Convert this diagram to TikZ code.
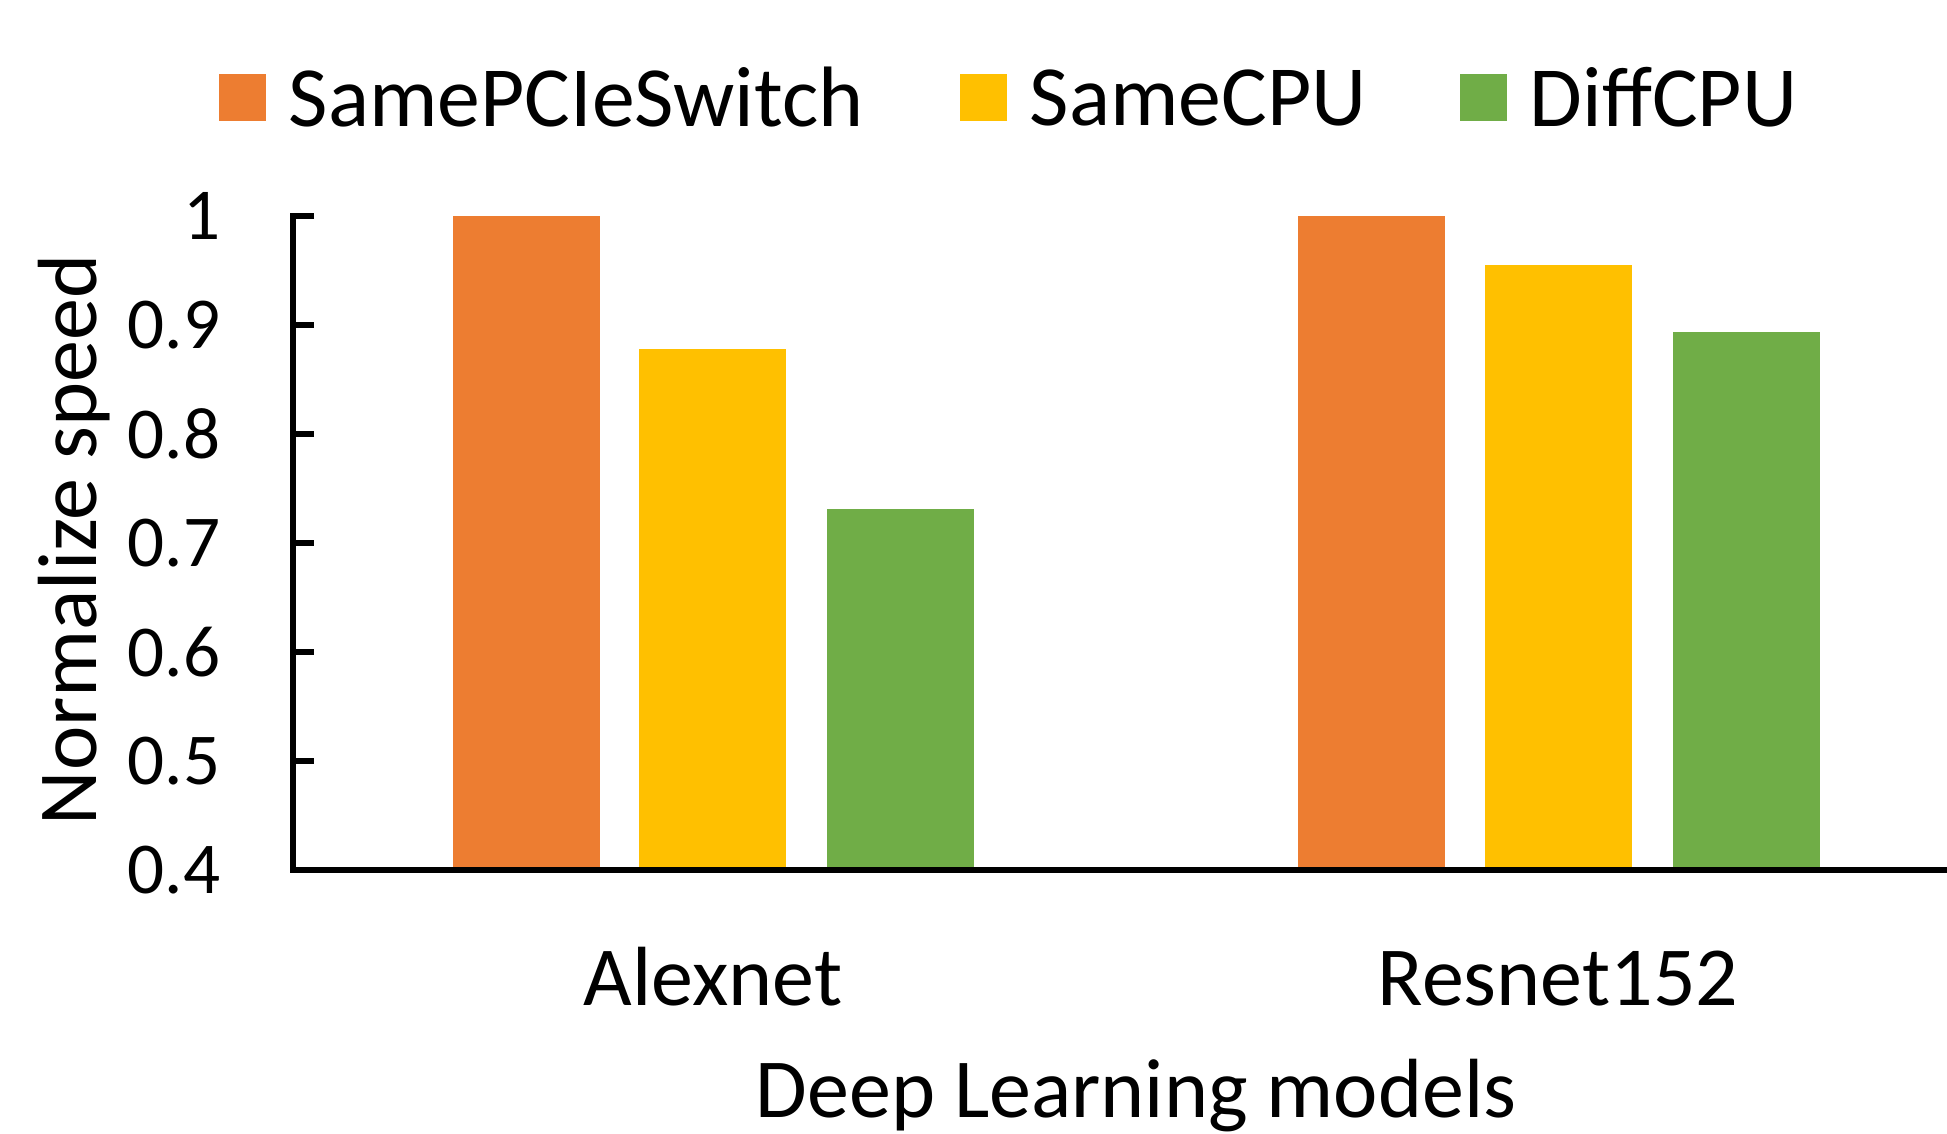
\documentclass[tikz,border=0pt]{standalone}
\usepackage{fontspec}
\setmainfont{Carlito}
\usepackage{tikz}
\usetikzlibrary{positioning}
\definecolor{orangebar}{RGB}{237,125,49}
\definecolor{yellowbar}{RGB}{255,192,0}
\definecolor{greenbar}{RGB}{112,173,71}

\begin{document}
\begin{tikzpicture}[
    bigtext/.style={font=\fontsize{23.9}{28}\selectfont, inner sep=0pt},
    legtext/.style={font=\fontsize{24.4}{28}\selectfont, inner sep=0pt},
    ticktext/.style={font=\fontsize{20.8}{24}\selectfont, inner sep=0pt, anchor=east},
    keybox/.style={minimum size=0.47cm, inner sep=0pt}
    ]
    \useasboundingbox (0,0) rectangle (19.47,11.33);
    % bars (value 0.4 sits on the axis)
    \foreach \x/\v/\c in {4.53/1/orangebar, 6.39/0.878/yellowbar, 8.27/0.731/greenbar,
                          12.98/1/orangebar, 14.85/0.955/yellowbar, 16.73/0.894/greenbar}
        \fill[\c] (\x,2.63) rectangle ++(1.47,{(\v-0.4)*10.9});
    % axes
    \draw[line width=1.7pt] (3.14,9.17) -- (2.93,9.17) -- (2.93,2.63) -- (19.47,2.63);
    \foreach \i/\lbl in {0/0.4,1/0.5,2/0.6,3/0.7,4/0.8,5/0.9,6/1} {
        \draw[line width=1.7pt] (2.93,{2.63+\i*1.09}) -- ++(0.21,0);
        \node[ticktext] (tick\i) at (2.21,{2.63+\i*1.09}) {\lbl};
    }
    % legend
    \node[keybox, fill=orangebar] (key1) at (2.42,10.355) {};
    \node[legtext, right=0.22cm of key1] (leg1) {SamePCIeSwitch};
    \node[keybox, fill=yellowbar] (key2) at (9.83,10.355) {};
    \node[legtext, right=0.22cm of key2] (leg2) {SameCPU};
    \node[keybox, fill=greenbar] (key3) at (14.83,10.355) {};
    \node[legtext, right=0.22cm of key3] (leg3) {DiffCPU};
    % labels
    \node[bigtext, anchor=base] (alexnet) at (7.13,1.28) {Alexnet};
    \node[bigtext, anchor=base] (resnet) at (15.58,1.28) {Resnet152};
    \node[bigtext, anchor=base] (xlabel) at (11.36,0.16) {Deep Learning models};
    \node[bigtext, anchor=base, rotate=90] (ylabel) at (0.96,5.93) {Normalize speed};
\end{tikzpicture}
\end{document}
